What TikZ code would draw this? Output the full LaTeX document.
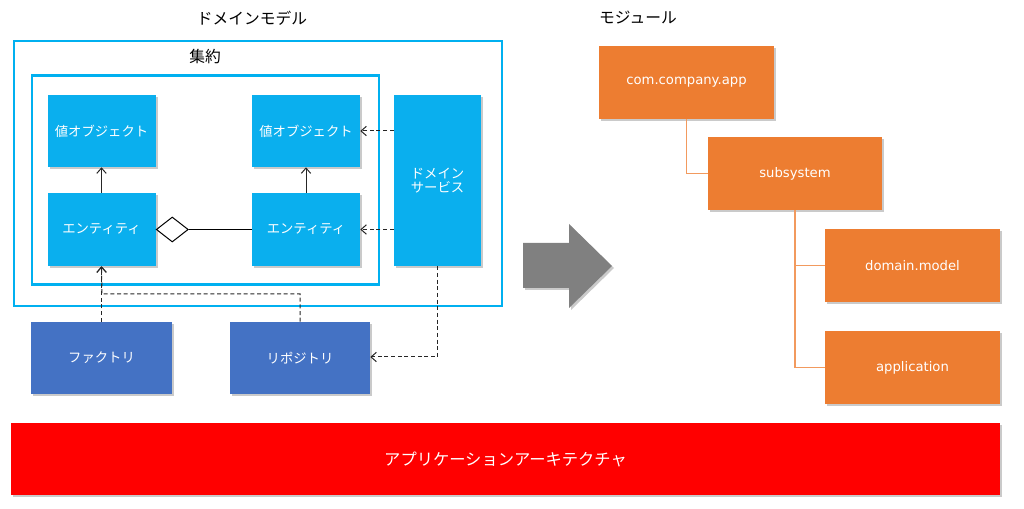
\documentclass[tikz,border=0pt]{standalone}
\usepackage{fontspec}
\setmainfont{DejaVu Sans}
\newfontfamily\jp{Noto Sans CJK JP}
\usetikzlibrary{shadows,arrows.meta,shapes.geometric}
\definecolor{skyb}{HTML}{00B0F0}
\definecolor{boxb}{HTML}{0AAFEE}
\definecolor{darkb}{HTML}{4472C4}
\definecolor{orng}{HTML}{ED7D31}
\definecolor{orngl}{HTML}{F29A5E}
\definecolor{redb}{HTML}{FF0000}
\definecolor{grayarr}{HTML}{808080}
\tikzset{
  px/.style={x=0.75pt,y=-0.75pt},
  shad/.style={drop shadow={shadow xshift=1.5pt,shadow yshift=-1.5pt,opacity=0.35,fill=black!60}},
  bbox/.style={shad,fill=boxb,draw=none,text=white,font=\jp\fontsize{10}{12.5}\selectfont,align=center},
  dbox/.style={shad,fill=darkb,draw=none,text=white,font=\jp\fontsize{10}{12.5}\selectfont},
  obox/.style={shad,fill=orng,draw=none,text=white,font=\fontsize{9.9}{12}\selectfont},
  frame/.style={draw=skyb,line width=2.2pt,fill=none},
  title/.style={font=\jp\fontsize{11.8}{13}\selectfont,text=black},
  dep/.style={draw=black!85,line width=0.75pt,dashed,dash pattern=on 3pt off 2pt,-{Straight Barb[length=4pt,width=7pt]}},
  nav/.style={draw=black!85,line width=0.75pt,-{Straight Barb[length=4pt,width=7pt]}},
  tree/.style={draw=orngl,line width=0.9pt},
}
\begin{document}
\begin{tikzpicture}[px]
\useasboundingbox (0,0) rectangle (1024,509);
% titles
\node[title] (t1) at (252,18) {ドメインモデル};
\node[title] (t2) at (638,18) {モジュール};
% frames
\node[frame,minimum width=488*0.75pt,minimum height=265*0.75pt] (outer) at (258,173.5) {};
\node[title] (agg) at (205,57) {集約};
\node[frame,minimum width=347*0.75pt,minimum height=209*0.75pt] (inner) at (205.5,180) {};
% boxes
\node[bbox,minimum width=108*0.75pt,minimum height=72*0.75pt] (vo1) at (101.5,131) {値オブジェクト};
\node[bbox,minimum width=108*0.75pt,minimum height=72*0.75pt] (vo2) at (306,131) {値オブジェクト};
\node[bbox,minimum width=108*0.75pt,minimum height=73*0.75pt] (e1) at (101.5,229.5) {エンティティ};
\node[bbox,minimum width=108*0.75pt,minimum height=73*0.75pt] (e2) at (306,229.5) {エンティティ};
\node[bbox,minimum width=87*0.75pt,minimum height=171*0.75pt] (ds) at (437.5,180.5) {ドメイン\\[-2pt]サービス};
\node[dbox,minimum width=141*0.75pt,minimum height=72*0.75pt] (fac) at (101.5,358) {ファクトリ};
\node[dbox,minimum width=140*0.75pt,minimum height=72*0.75pt] (rep) at (300,358) {リポジトリ};
% diamond
\node[diamond,draw=black,fill=white,line width=0.75pt,inner sep=0pt,minimum width=32*0.75pt,minimum height=25*0.75pt,anchor=west] (dia) at (e1.east) {};
\draw[black,line width=0.75pt] (dia.east) -- (e2.west);
% arrows
\draw[nav] (e1.north) -- (vo1.south);
\draw[nav] (e2.north) -- (vo2.south);
\draw[dep] (ds.west |- vo2.east) -- (vo2.east);
\draw[dep] (ds.west |- e2.east) -- (e2.east);
\draw[dep] (fac.north) -- (e1.south);
\coordinate (rc) at (300,294);
\coordinate (lc) at (102,294);
\draw[dep] (rep.north) -- (rc) -- (lc) -- (e1.south);
\coordinate (dc) at (437.5,357);
\draw[dep] (ds.south) -- (dc) -- (rep.east |- dc);
% big gray arrow
\fill[grayarr,shad] (523,243) -- (569,243) -- (569,224) -- (612,266) -- (569,308) -- (569,288) -- (523,288) -- cycle;
% modules
\node[obox,minimum width=175*0.75pt,minimum height=73*0.75pt] (app) at (686.5,82.5) {com.company.app};
\node[obox,minimum width=174*0.75pt,minimum height=73*0.75pt] (sub) at (795,173.5) {subsystem};
\node[obox,minimum width=175*0.75pt,minimum height=73*0.75pt] (dm) at (912.5,265.5) {domain.model};
\node[obox,minimum width=175*0.75pt,minimum height=73*0.75pt] (apl) at (912.5,367.5) {application};
\draw[tree] (app.south) |- (sub.west);
\draw[tree] (sub.south) |- (dm.west);
\draw[tree] (sub.south) |- (apl.west);
% red bar
\node[shad,fill=redb,draw=none,text=white,minimum width=989*0.75pt,minimum height=72*0.75pt,font=\jp\fontsize{12.2}{14}\selectfont] (arch) at (505.5,459) {アプリケーションアーキテクチャ};
\end{tikzpicture}
\end{document}
